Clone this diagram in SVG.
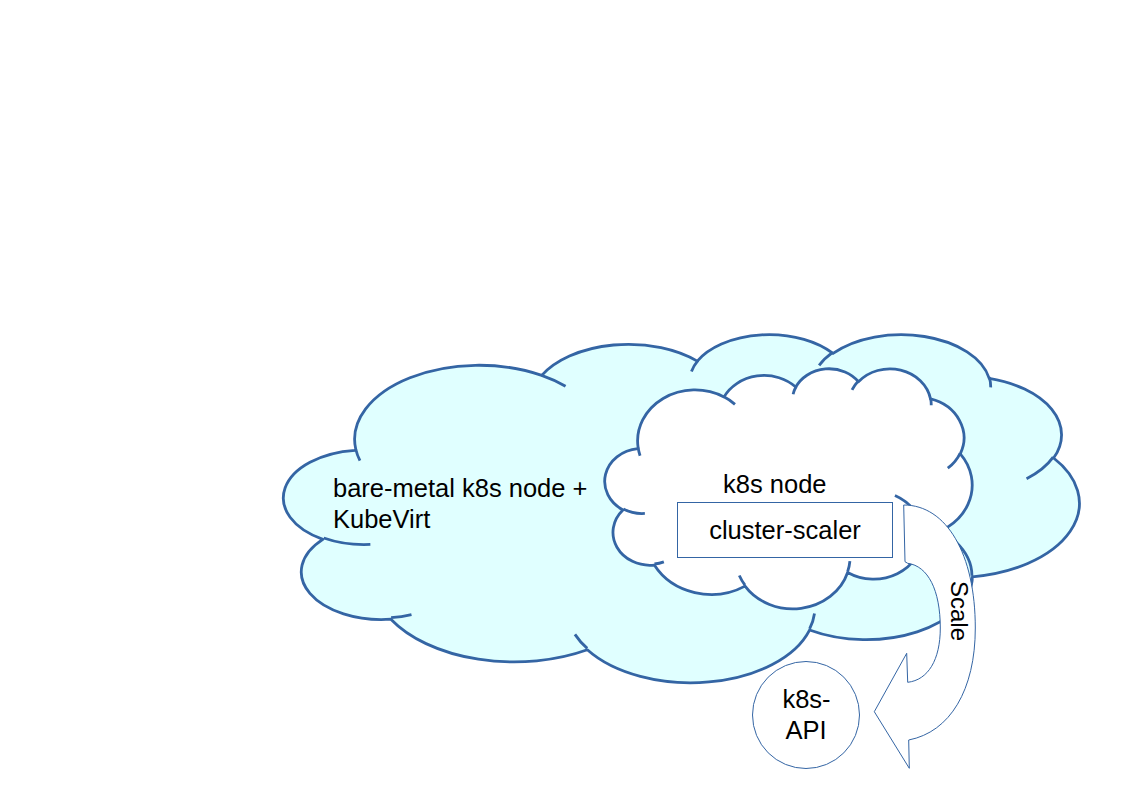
<svg xmlns="http://www.w3.org/2000/svg" xmlns:xlink="http://www.w3.org/1999/xlink" width="1123" height="794" viewBox="0 0 1123 794">
<style>
.cl{stroke:#3465a4;stroke-width:2.8;stroke-linecap:butt;stroke-linejoin:round}
.cp{vector-effect:non-scaling-stroke}
.tail{fill:none}
.thin{stroke:#3465a4;stroke-width:1;fill:#ffffff}
text{font-family:"Liberation Sans",Arial,sans-serif;fill:#000000}
.t{font-size:25.5px}
.c{text-anchor:middle}
</style>
<defs>
<path id="cloudBody" class="cp" vector-effect="non-scaling-stroke" d="M3900 14370A6753 9190 0 0 1 14005.5 5202.6A5333 7267 0 0 1 22457.4 3429.5A4365 5945 0 0 1 29835.1 2477.9A4857 6595 0 0 1 38320.4 5572.9A5333 7273 0 0 1 41820.8 15456.8A6775 9220 0 0 1 37406.5 30199.7A5785 7867 0 0 1 28557.7 36809.5A6752 9215 0 0 1 16483.5 39263.5A7720 10543 0 0 1 5806.7 35468A4360 5918 0 0 1 2113.8 25548.5A4345 5945 0 0 1 3863.6 14504.7Z"/>
<path id="cloudTails" class="cp" vector-effect="non-scaling-stroke" d="M4693 26177A4345 5945 0 0 1 2160.1 25380.2M6928 34899A4360 5918 0 0 1 5819.6 35280.4M16478 39090A6752 9215 0 0 1 15809 37348.1M28827 34751A6752 9215 0 0 1 28560.4 36659.8M34129 22954A5785 7867 0 0 1 37380 30089.3M41798 15354A5333 7273 0 0 1 40349.7 18029.9M38324 5426A4857 6595 0 0 1 38400.4 6689.6M29078 3952A4857 6595 0 0 1 29819.5 2340.6M22141 4720A4365 5945 0 0 1 22499.8 3331.3M14000 5192A6753 9190 0 0 1 15299.4 6539.9M4127 15789A6753 9190 0 0 1 3900.2 14370.2"/>
</defs>
<g id="bare-metal">
<g transform="translate(284,333.5) scale(0.0184028,0.0080556)">
<use xlink:href="#cloudBody" class="cl" fill="#e0ffff"/>
<use xlink:href="#cloudTails" class="cl tail"/>
</g>
<text class="t" x="333" y="497">bare-metal k8s node +</text>
<text class="t" x="333" y="527.5">KubeVirt</text>
</g>
<g id="k8s-node">
<g transform="translate(605,368) scale(0.0084954,0.0055556)">
<use xlink:href="#cloudBody" class="cl" fill="#ffffff"/>
<use xlink:href="#cloudTails" class="cl tail"/>
</g>
<text class="t" x="723" y="492.5">k8s node</text>
</g>
<g id="cluster-scaler">
<rect class="thin" x="677.5" y="502.5" width="215" height="55"/>
<text class="t c" x="785" y="538.5">cluster-scaler</text>
</g>
<g id="k8s-api">
<circle class="thin" cx="806" cy="715" r="53.5"/>
<text class="t c" x="806.5" y="708">k8s-</text>
<text class="t c" x="806" y="738.5">API</text>
</g>
<g id="connectors">
<path class="thin" d="M903.7 505C946.5 505 975.3 554 975.3 628C975.3 690 950 732 908.7 740L909.3 768.3L874.3 711.7L906.7 653.3L907.7 682.3C928 680 940.3 660 940.3 628C940.3 590 928 566 907.7 563.3L905 561.7Z"/>
<text transform="translate(951,581) rotate(90)" font-size="24">Scale</text>
</g>
</svg>
